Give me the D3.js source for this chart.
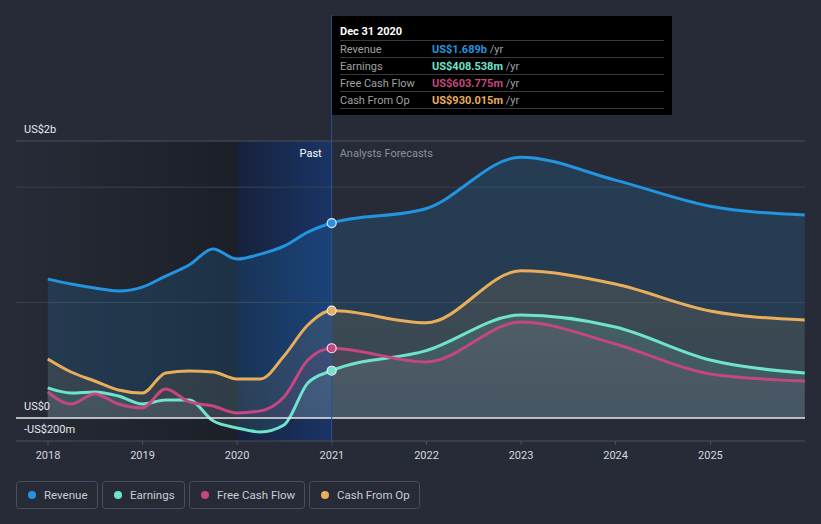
<!DOCTYPE html>
<html><head><meta charset="utf-8">
<script src="https://cdn.jsdelivr.net/npm/d3@7"></script>
<style>
body{margin:0;background:#262b37;}
svg{display:block;font-family:Roboto,'Open Sans',sans-serif;}
</style>
</head><body>
<svg id="c" width="821" height="524"></svg>
<script>
// ---- data ----
const dates = ["2017-12-31","2018-03-31","2018-06-30","2018-09-30","2018-12-31","2019-03-31","2019-06-30","2019-09-30","2019-12-31","2020-03-31","2020-06-30","2020-09-30","2020-12-31","2021-12-31","2022-12-31","2023-12-31","2024-12-31","2025-12-31"];
const revenue = [1203,1160,1126,1100,1134,1229,1325,1463,1377,1420,1489,1610,1689,1815,2260,2061,1835,1758];
const earnings = [260,216,225,190,121,156,156,-25,-87,-121,-61,303,409,583,892,788,502,390];
const freeCashFlow = [225,121,208,121,87,251,139,104,43,61,182,502,604,485,831,641,381,320];
const cashFromOp = [511,398,320,242,216,390,407,398,338,338,537,805,930,825,1275,1160,926,848];
const seriesNames = ["Revenue","Earnings","Free Cash Flow","Cash From Op"];
const seriesColors = ["#2394df","#6fe3cc","#c4477f","#e9ae5c"];
const xTickLabels = ["2018","2019","2020","2021","2022","2023","2024","2025"];
const yTickValues = [2400, 0, -200];
const yTickLabels = ["US$2b","US$0","-US$200m"];
const gridValues = [1000, 2000];
const tooltipDate = "Dec 31 2020";
const tooltipValues = ["US$1.689b","US$408.538m","US$603.775m","US$930.015m"];
const pastEnd = "2020-12-31";
const lastYearStart = "2020-01-01";

// ---- setup ----
const svg = d3.select("#c");
const parse = d3.timeParse("%Y-%m-%d");
const D = dates.map(parse);
const x = d3.scaleTime().domain([parse("2018-01-01"), parse("2026-01-01")]).range([48, 805]);
const y = d3.scaleLinear().domain([-200, 2400]).range([441, 141]);
const L = 16, R = 805;

const defs = svg.append("defs");
const g1 = defs.append("linearGradient").attr("id","pastDark").attr("x1","0").attr("x2","1").attr("y1","0").attr("y2","0");
g1.append("stop").attr("offset","0").attr("stop-color","#000").attr("stop-opacity",0);
g1.append("stop").attr("offset","1").attr("stop-color","#000").attr("stop-opacity",0.28);
const g2 = defs.append("linearGradient").attr("id","pastBlue").attr("x1","0").attr("x2","1").attr("y1","0").attr("y2","0");
g2.append("stop").attr("offset","0").attr("stop-color","#0a1a40").attr("stop-opacity",0.55);
g2.append("stop").attr("offset","1").attr("stop-color","#0f3c8c").attr("stop-opacity",0.55);

const xPast = x(parse(pastEnd)), xLY = x(parse(lastYearStart));
svg.append("rect").attr("x", L).attr("y", y(2400)).attr("width", xLY - L).attr("height", y(-200) - y(2400)).attr("fill","url(#pastDark)");
svg.append("rect").attr("x", xLY).attr("y", y(2400)).attr("width", xPast - xLY).attr("height", y(-200) - y(2400)).attr("fill","url(#pastBlue)");

// grid
svg.selectAll(".grid").data(gridValues).enter().append("line")
  .attr("x1", L).attr("x2", R).attr("y1", d => y(d)).attr("y2", d => y(d))
  .attr("stroke", "#3a404c").attr("stroke-width", 1);
svg.append("line").attr("x1", L).attr("x2", R).attr("y1", y(2400)).attr("y2", y(2400)).attr("stroke","#4b515c");
svg.append("line").attr("x1", L).attr("x2", R).attr("y1", y(-200)).attr("y2", y(-200)).attr("stroke","#4b515c");

// series
const allSeries = [revenue, earnings, freeCashFlow, cashFromOp];
const drawOrder = [0, 3, 1, 2];
const fillOpacity = [0.16, 0.15, 0.1, 0.12];
seriesColors.forEach((c,k) => {
  const gr = defs.append("linearGradient").attr("id","af"+k).attr("gradientUnits","userSpaceOnUse")
    .attr("x1",0).attr("x2",0).attr("y1", y(1400)).attr("y2", y(0));
  gr.append("stop").attr("offset","0").attr("stop-color", c).attr("stop-opacity", fillOpacity[k]*1.15);
  gr.append("stop").attr("offset","1").attr("stop-color", c).attr("stop-opacity", fillOpacity[k]*0.7);
});
const area = d3.area().x((d,i) => x(D[i])).y0(y(0)).y1(d => y(d)).curve(d3.curveMonotoneX);
const line = d3.line().x((d,i) => x(D[i])).y(d => y(d)).curve(d3.curveMonotoneX);
drawOrder.forEach(k => {
  svg.append("path").attr("d", area(allSeries[k])).attr("fill", k === 0 ? seriesColors[k] : `url(#af${k})`)
    .attr("fill-opacity", k === 0 ? fillOpacity[k] : 1);
});
drawOrder.forEach(k => {
  svg.append("path").attr("d", line(allSeries[k])).attr("fill","none").attr("stroke", seriesColors[k]).attr("stroke-width", 3);
});

// zero line
svg.append("line").attr("x1", L).attr("x2", R).attr("y1", y(0)).attr("y2", y(0)).attr("stroke","#e8e8e8").attr("stroke-width",1.5);

// vertical marker line
svg.append("line").attr("x1", xPast).attr("x2", xPast).attr("y1", 15).attr("y2", y(-200)).attr("stroke","#2b5290").attr("stroke-width",1);

// markers at past end
const idx = dates.indexOf(pastEnd);
allSeries.forEach((s,k) => {
  svg.append("circle").attr("cx", xPast).attr("cy", y(s[idx])).attr("r", 4.5)
    .attr("fill", seriesColors[k]).attr("stroke","#e6e9f0").attr("stroke-width",1.2);
});

// Past / Analysts Forecasts labels
svg.append("text").attr("x", xPast - 10).attr("y", 157).attr("text-anchor","end").attr("fill","#ffffff").attr("font-size",11).text("Past");
svg.append("text").attr("x", xPast + 8).attr("y", 157).attr("fill","#8b909a").attr("font-size",11).text("Analysts Forecasts");

// x axis ticks + labels
const xTickDates = xTickLabels.map(t => parse(t + "-01-01"));
svg.selectAll(".xt").data(xTickDates).enter().append("line")
  .attr("x1", d => x(d)).attr("x2", d => x(d)).attr("y1", y(-200)).attr("y2", y(-200) + 4).attr("stroke","#4b515c");
svg.selectAll(".xl").data(xTickLabels).enter().append("text")
  .attr("x", (d,i) => x(xTickDates[i])).attr("y", 459).attr("text-anchor","middle")
  .attr("fill","#d6d8dc").attr("font-size",11).text(d => d);

// y labels
svg.selectAll(".yl").data(yTickValues).enter().append("text")
  .attr("x", 24).attr("y", d => y(d) - 8).attr("fill","#e6e8eb").attr("font-size",11)
  .text((d,i) => yTickLabels[i]);

// tooltip
const tt = svg.append("g");
tt.append("rect").attr("x", 332).attr("y", 16).attr("width", 340).attr("height", 99).attr("fill","#000");
tt.append("text").attr("x", 340).attr("y", 35).attr("fill","#fff").attr("font-size",11).attr("font-weight","bold").text(tooltipDate);
[0,1,2,3,4].forEach(i => {
  tt.append("line").attr("x1",340).attr("x2",664).attr("y1", 40.5 + i*17).attr("y2", 40.5 + i*17).attr("stroke","#3a3a3a");
});
seriesNames.forEach((n,i) => {
  const yy = 52.5 + i*17;
  tt.append("text").attr("x",340).attr("y",yy).attr("fill","#a0a0a0").attr("font-size",11).text(n);
  const t = tt.append("text").attr("x",432).attr("y",yy).attr("font-size",11);
  t.append("tspan").attr("fill", seriesColors[i]).attr("font-weight","bold").text(tooltipValues[i]);
  t.append("tspan").attr("fill","#a0a0a0").text(" /yr");
});

// legend
const legendX = [16, 102, 189, 309];
const legendW = [81, 82, 115, 110];
seriesNames.forEach((n,i) => {
  const g = svg.append("g").attr("transform", `translate(${legendX[i]},481)`);
  g.append("rect").attr("x",0.5).attr("y",0.5).attr("width",legendW[i]).attr("height",27).attr("rx",3)
    .attr("fill","none").attr("stroke","#4a505b");
  g.append("circle").attr("cx",16).attr("cy",14).attr("r",4).attr("fill",seriesColors[i]);
  g.append("text").attr("x",28).attr("y",18).attr("fill","#c9ccd2").attr("font-size",11.5).text(n);
});
</script>
</body></html>
